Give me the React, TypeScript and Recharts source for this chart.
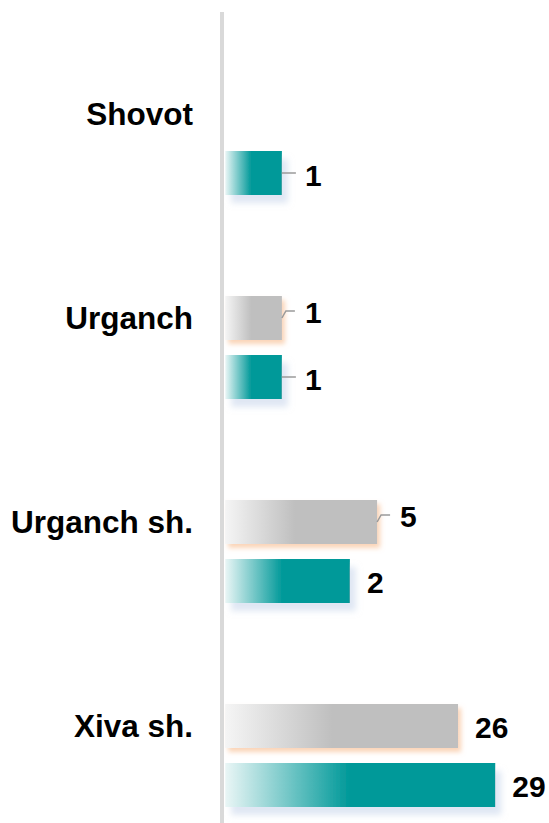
import { BarChart, Bar, XAxis, YAxis, LabelList } from "recharts";

// districts, top to bottom
const districts = ["Shovot", "Urganch", "Urganch sh.", "Xiva sh."];

// numbers printed next to the bars
const grayCounts = [null, 1, 5, 26];
const tealCounts = [1, 1, 2, 29];

// bar lengths (0..100 scale), they do not follow the printed numbers
const grayLengths = [0, 17.5, 46.9, 71.9];
const tealLengths = [17.5, 17.5, 38.5, 83.4];

// which labels sit on a small leader line
const grayLeader = [false, true, true, false];
const tealLeader = [true, true, false, false];

const data = districts.map((d, i) => ({
    district: d,
    grayBar: grayLengths[i],
    tealBar: tealLengths[i],
    grayCount: grayCounts[i],
    tealCount: tealCounts[i],
}));

const FONT = "'Liberation Sans', Arial, sans-serif";

const CategoryTick = (props: any) => {
    const { x, y, payload } = props;
    return (
        <text x={x} y={y - 29.5} dy="0.35em" textAnchor="end" fontFamily={FONT} fontWeight="bold" fontSize={31.5} fill="#000">
            {payload.value}
        </text>
    );
};

const makeShape = (grad: string, shadow: string) => (props: any) => {
    const { x, y, width, height } = props;
    if (!width || width <= 0) return <g />;
    return <rect x={x} y={y} width={width} height={height} fill={`url(#${grad})`} filter={`url(#${shadow})`} />;
};

const makeLabel = (counts: (number | null)[], leaders: boolean[], kind: "gray" | "teal") => (props: any) => {
    const vb = props.viewBox || props;
    const { x, y, width, height } = vb;
    const { index } = props;
    const value = counts[index];
    if (value === null || value === undefined || !width) return null;
    const end = x + width;
    const cy = y + height / 2;
    const txt = { fontFamily: FONT, fontWeight: "bold" as const, fontSize: 30, fill: "#000" };
    if (leaders[index]) {
        if (kind === "gray") {
            return (
                <g>
                    <polyline points={`${end},${cy} ${end + 4},${cy - 7} ${end + 13},${cy - 7}`} fill="none" stroke="#9a9a9a" strokeWidth={1.5} />
                    <text x={end + 23} y={cy - 6} dy="0.35em" {...txt}>{value}</text>
                </g>
            );
        }
        return (
            <g>
                <line x1={end} y1={cy} x2={end + 14} y2={cy} stroke="#9a9a9a" strokeWidth={1.5} />
                <text x={end + 23} y={cy + 2} dy="0.35em" {...txt}>{value}</text>
            </g>
        );
    }
    return <text x={end + 17} y={cy + 1} dy="0.35em" {...txt}>{value}</text>;
};

const App = () => {
    return (
        <div style={{ position: "absolute", left: 0, top: 0, width: 549, height: 823, overflow: "hidden", background: "#fff" }}>
            <BarChart
                layout="vertical"
                width={549}
                height={857}
                data={data}
                margin={{ top: 12, right: 0, bottom: 0, left: 0 }}
                barSize={44}
                barGap={15}
            >
                <defs>
                    <linearGradient id="grayGrad" x1="0" y1="0" x2="1" y2="0">
                        <stop offset="0%" stopColor="#f5f5f5" />
                        <stop offset="46%" stopColor="#bfbfbf" />
                        <stop offset="100%" stopColor="#bfbfbf" />
                    </linearGradient>
                    <linearGradient id="tealGrad" x1="0" y1="0" x2="1" y2="0">
                        <stop offset="0%" stopColor="#eaf6f6" />
                        <stop offset="46%" stopColor="#009999" />
                        <stop offset="100%" stopColor="#009999" />
                    </linearGradient>
                    <filter id="grayShadow" x="-20%" y="-30%" width="150%" height="180%">
                        <feDropShadow dx={3} dy={4} stdDeviation={2.5} floodColor="#f6b07c" floodOpacity={0.55} />
                    </filter>
                    <filter id="tealShadow" x="-20%" y="-30%" width="150%" height="180%">
                        <feDropShadow dx={6} dy={8} stdDeviation={3} floodColor="#c5d3ea" floodOpacity={0.55} />
                    </filter>
                </defs>
                <XAxis type="number" hide domain={[-1, 100]} />
                <YAxis
                    type="category"
                    dataKey="district"
                    width={222}
                    axisLine={{ stroke: "#d9d9d9", strokeWidth: 4 }}
                    tickLine={false}
                    tickMargin={23}
                    padding={{ top: 29, bottom: 0 }}
                    interval={0}
                    tick={<CategoryTick />}
                />
                <Bar dataKey="grayBar" shape={makeShape("grayGrad", "grayShadow")} isAnimationActive={false}>
                    <LabelList dataKey="grayCount" content={makeLabel(grayCounts, grayLeader, "gray")} />
                </Bar>
                <Bar dataKey="tealBar" shape={makeShape("tealGrad", "tealShadow")} isAnimationActive={false}>
                    <LabelList dataKey="tealCount" content={makeLabel(tealCounts, tealLeader, "teal")} />
                </Bar>
            </BarChart>
        </div>
    );
};

export default App;
